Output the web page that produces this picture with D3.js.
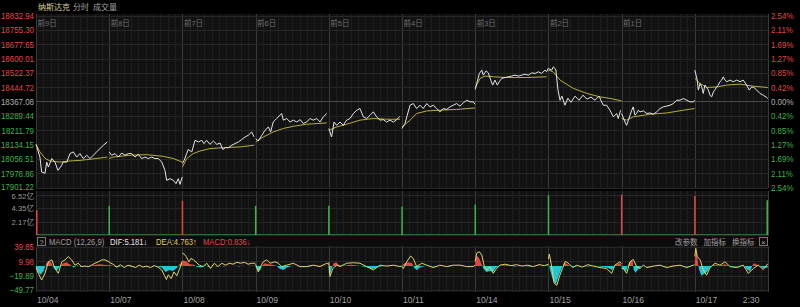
<!DOCTYPE html>
<html>
<head>
<meta charset="utf-8">
<script src="https://cdn.jsdelivr.net/npm/d3@7"></script>
<style>
html, body { margin: 0; padding: 0; background: #000; }
svg { display: block; }
text { font-family: "Liberation Sans", "Noto Sans CJK SC", sans-serif; }
</style>
</head>
<body>
<div id="chart"></div>
<script>
// trading days and labels
const dates = ["10/04", "10/07", "10/08", "10/09", "10/10", "10/11", "10/14", "10/15", "10/16", "10/17"];
const dayTags = ["前9日", "前8日", "前7日", "前6日", "前5日", "前4日", "前3日", "前2日", "前1日", ""];
const baseClose = 18367.08;
const priceTicks = [18832.94, 18755.30, 18677.65, 18600.01, 18522.37, 18444.72, 18367.08,
    18289.44, 18211.79, 18134.15, 18056.51, 17978.86, 17901.22];
const pctTicks = ["2.54%", "2.11%", "1.69%", "1.27%", "0.85%", "0.42%", "0.00%",
    "0.42%", "0.85%", "1.27%", "1.69%", "2.11%", "2.54%"];
const volTicks = [6.52, 4.35, 2.17];
const macdTicks = [39.85, 9.98, -19.89, -49.77];

// price per day: [minute from open, price]
const prices = [
    [[0,18135],[21,18066],[30,17985],[48,17978],[57,18039],[66,18012],[84,18058],[101,18039],[117,17994],[137,18021],[144,18039],[164,18039],[181,18085],[199,18094],[217,18066],[234,18085],[252,18058],[270,18076],[288,18058],[305,18076],[323,18094],[341,18112],[359,18130],[380,18148]],
    [[0,18094],[13,18076],[31,18085],[48,18066],[67,18088],[84,18076],[102,18085],[120,18085],[137,18066],[155,18081],[173,18058],[191,18066],[208,18058],[226,18066],[244,18058],[262,18058],[280,18039],[297,17994],[306,17940],[324,17949],[342,17940],[356,17922],[368,17949],[377,17918],[389,17958]],
    [[0,18031],[9,18048],[23,18085],[31,18107],[50,18094],[67,18157],[85,18148],[103,18157],[115,18139],[129,18157],[147,18135],[165,18153],[183,18135],[201,18142],[215,18107],[228,18117],[245,18117],[263,18130],[280,18139],[298,18148],[316,18161],[334,18175],[351,18184],[369,18202],[382,18175]],
    [[0,18166],[14,18153],[33,18184],[50,18211],[68,18229],[80,18202],[94,18256],[112,18275],[130,18293],[139,18302],[148,18266],[166,18275],[183,18256],[201,18266],[219,18256],[237,18269],[254,18248],[272,18256],[290,18275],[307,18266],[326,18275],[343,18256],[361,18284],[379,18302]],
    [[0,18221],[15,18175],[28,18256],[42,18238],[60,18256],[77,18238],[95,18266],[113,18275],[131,18302],[149,18320],[166,18329],[184,18284],[202,18275],[220,18293],[237,18311],[255,18284],[273,18266],[290,18269],[308,18256],[326,18266],[344,18256],[362,18269],[379,18287]],
    [[0,18221],[16,18248],[28,18293],[43,18347],[60,18356],[78,18329],[96,18347],[113,18329],[132,18356],[149,18338],[167,18347],[185,18329],[202,18311],[220,18329],[238,18324],[256,18338],[273,18347],[291,18356],[309,18342],[327,18360],[345,18374],[362,18365],[380,18365],[389,18352]],
    [[0,18432],[11,18474],[22,18519],[35,18537],[43,18510],[58,18533],[70,18522],[83,18483],[93,18456],[105,18483],[118,18456],[128,18474],[141,18492],[159,18497],[176,18501],[194,18505],[212,18510],[230,18505],[248,18510],[265,18515],[283,18510],[301,18522],[319,18519],[336,18528],[354,18519],[372,18537],[381,18528],[388,18546]],
    [[0,18546],[18,18537],[26,18555],[35,18546],[40,18537],[51,18429],[62,18374],[72,18396],[88,18347],[104,18385],[120,18363],[142,18396],[163,18374],[184,18401],[206,18380],[227,18391],[248,18374],[270,18396],[292,18347],[310,18347],[328,18320],[346,18284],[364,18302],[372,18275],[385,18320]],
    [[0,18302],[18,18256],[27,18238],[36,18266],[45,18293],[54,18320],[62,18338],[71,18293],[80,18302],[89,18320],[98,18311],[116,18316],[134,18302],[151,18305],[169,18298],[187,18311],[205,18329],[222,18338],[240,18342],[258,18347],[276,18356],[294,18374],[311,18374],[329,18383],[347,18374],[365,18365],[383,18365],[389,18374]],
    [[0,18537],[13,18483],[19,18429],[28,18465],[37,18446],[45,18411],[54,18456],[63,18443],[72,18429],[81,18401],[90,18392],[99,18419],[108,18432],[117,18446],[125,18456],[134,18474],[143,18483],[152,18501],[161,18483],[170,18474],[188,18483],[205,18474],[223,18483],[241,18474],[258,18483],[276,18456],[290,18429],[303,18446],[315,18443],[330,18429],[347,18411],[365,18401],[383,18389],[389,18383]]
];

// average price per day
const avgPrices = [
    [[0,18135],[21,18094],[48,18059],[75,18045],[128,18039],[181,18045],[234,18048],[288,18054],[341,18061],[380,18066]],
    [[0,18058],[20,18066],[111,18076],[200,18079],[288,18070],[342,18058],[389,18039]],
    [[0,18012],[23,18058],[58,18085],[94,18099],[147,18112],[218,18117],[307,18121],[382,18130]],
    [[0,18148],[41,18175],[94,18202],[148,18221],[201,18233],[272,18244],[379,18251]],
    [[0,18211],[42,18229],[95,18244],[166,18266],[237,18275],[308,18271],[379,18271]],
    [[0,18229],[43,18266],[78,18302],[132,18316],[202,18320],[291,18324],[389,18332]],
    [[0,18443],[26,18492],[52,18505],[96,18501],[168,18497],[274,18497],[381,18501]],
    [[0,18537],[25,18528],[62,18483],[133,18438],[204,18411],[275,18392],[328,18384],[389,18371]],
    [[0,18275],[27,18266],[62,18284],[151,18298],[240,18305],[329,18320],[389,18329]],
    [[0,18492],[28,18465],[63,18443],[117,18446],[170,18456],[241,18461],[312,18450],[389,18443]]
];

// volume spikes: [day, minute, 亿, 1 = up (red) / -1 = down (green)]
const volumes = [
    [0, 0, 4.0, 1], [0, 389, 4.7, -1], [1, 389, 5.5, 1], [2, 389, 4.7, -1], [3, 389, 4.7, -1],
    [4, 389, 4.6, -1], [5, 389, 4.9, -1], [6, 389, 6.4, -1], [7, 389, 6.5, 1], [8, 389, 6.3, 1], [9, 389, 5.6, -1]
];

// MACD DIF per day: [minute, value]
const difLine = [
    [[0,-3],[12,-15],[30,-29],[48,-15],[66,9],[84,13],[101,-5],[119,-15],[137,9],[155,13],[172,20],[190,13],[208,2],[225,6],[243,-1],[261,0],[279,-1],[296,2],[314,6],[332,9],[350,13],[368,13],[389,9]],
    [[0,8],[20,4],[40,-2],[60,3],[80,-3],[100,2],[120,0],[140,-3],[160,2],[180,-2],[200,0],[220,-3],[240,1],[260,-2],[280,-8],[295,-20],[305,-28],[315,-18],[330,-26],[345,-12],[360,-20],[375,-6],[389,10]],
    [[0,27],[9,25],[20,20],[35,9],[45,16],[60,13],[90,2],[110,-1],[130,6],[150,-5],[170,6],[190,-1],[210,6],[230,2],[250,6],[270,4],[290,8],[310,6],[330,8],[350,4],[370,6],[389,6]],
    [[0,4],[14,-12],[30,2],[41,9],[59,13],[77,6],[103,9],[121,6],[139,-1],[166,2],[201,6],[237,-1],[272,-1],[307,2],[343,-1],[379,6],[389,4]],
    [[0,8],[6,-22],[21,-5],[42,2],[60,-1],[95,6],[131,7],[166,6],[202,-1],[237,-8],[273,2],[308,0],[344,2],[379,-1],[389,0]],
    [[0,-1],[7,-5],[25,9],[46,21],[60,16],[78,-1],[105,6],[132,2],[167,-3],[202,2],[238,-1],[273,2],[309,2],[345,-1],[380,-1],[389,2]],
    [[0,10],[8,27],[22,30],[35,23],[47,2],[61,-8],[79,-1],[96,-15],[114,-5],[132,2],[160,4],[190,1],[220,3],[250,0],[280,2],[310,-1],[340,3],[370,1],[389,4]],
    [[0,15],[5,25],[15,5],[30,-35],[45,-40],[60,-20],[75,-5],[90,10],[110,5],[130,-3],[150,2],[180,-2],[210,3],[240,0],[275,-3],[310,-5],[337,-15],[354,2],[381,9],[389,5]],
    [[0,-5],[9,-5],[27,-15],[45,9],[62,14],[80,-1],[98,-5],[116,2],[134,-3],[169,0],[205,2],[240,-3],[275,0],[311,2],[347,-3],[382,2],[389,3]],
    [[0,20],[5,37],[13,20],[28,13],[45,-8],[63,-19],[81,-3],[108,6],[134,2],[161,9],[188,-1],[223,-3],[258,2],[285,-15],[312,-5],[338,2],[365,-7],[389,5]]
];

// MACD histogram per day: [minute, value]
const macdBars = [
    [[0,-3],[10,-12],[25,-18],[40,-10],[55,6],[65,10],[80,8],[95,-4],[110,-10],[125,-2],[140,5],[160,8],[180,4],[200,-3],[220,2],[240,-2],[260,1],[280,-2],[300,2],[320,3],[340,4],[360,3],[389,2]],
    [[0,3],[40,-2],[80,1],[120,-1],[160,1],[200,-1],[240,1],[280,-3],[300,-12],[320,-8],[340,-10],[360,-4],[375,4],[389,10]],
    [[0,12],[20,10],[40,4],[60,3],[80,-2],[100,-3],[120,2],[140,-2],[160,2],[180,-1],[200,1],[220,-1],[240,1],[260,0],[280,1],[300,-1],[320,1],[340,0],[360,1],[389,1]],
    [[0,-2],[14,-10],[25,-8],[35,2],[50,6],[70,4],[90,3],[110,1],[130,-6],[150,-8],[165,-3],[200,1],[240,-1],[280,-1],[320,1],[360,1],[389,0]],
    [[0,-14],[6,-18],[15,-6],[25,6],[40,8],[55,2],[80,1],[120,3],[160,1],[200,-2],[235,-6],[260,-2],[300,1],[340,1],[389,0]],
    [[0,2],[15,6],[35,8],[55,6],[65,-4],[80,-8],[95,-3],[130,1],[170,-1],[210,1],[250,-1],[290,1],[330,0],[389,1]],
    [[0,12],[8,22],[20,18],[32,6],[45,-6],[60,-12],[80,-10],[95,-12],[110,-4],[130,1],[170,2],[210,-1],[250,1],[290,-1],[330,1],[370,0],[389,2]],
    [[0,8],[10,-10],[25,-30],[40,-38],[55,-20],[70,-5],[85,8],[100,4],[130,-2],[170,1],[210,-1],[250,1],[290,-2],[320,-4],[337,-8],[355,2],[381,6],[389,3]],
    [[0,-3],[15,-8],[25,-10],[35,4],[48,10],[58,12],[65,-8],[75,-14],[88,-6],[110,1],[150,-1],[190,1],[230,-1],[270,1],[310,1],[350,-1],[389,1]],
    [[0,10],[5,30],[12,22],[22,-6],[35,-20],[50,-16],[65,-12],[80,-3],[100,3],[130,1],[160,4],[190,-1],[230,-1],[260,2],[280,-8],[295,-10],[310,4],[320,6],[340,1],[365,-4],[389,-3]]
];

const W = 800, H = 307;
const left = 36, right = 768;
const RED = "#e04848", GREEN = "#3cb44b", GRID = "#262626", DAYLINE = "#3a3a3a";
const CJK = "'Noto Sans CJK SC', sans-serif";

const svg = d3.select("#chart").append("svg").attr("width", W).attr("height", H);
svg.append("rect").attr("width", W).attr("height", H).attr("fill", "#000");

// narrow the numeric labels, the terminal font is condensed
function squeeze(sel, k) {
    sel.each(function () {
        const w = this.getComputedTextLength();
        d3.select(this).attr("textLength", w * k).attr("lengthAdjust", "spacingAndGlyphs");
    });
}

const x = d3.scaleLinear().domain([0, dates.length * 390]).range([left, right]);
const tx = (day, m) => x(day * 390 + m);

const yMain = d3.scaleLinear().domain([17901.22, 18832.94]).range([187.5, 15.5]);
const yVol = d3.scaleLinear().domain([0, 6.52]).range([235, 194.5]);
const yMacd = d3.scaleLinear().domain([-49.77, 39.85]).range([290, 247]);

// panel backgrounds + grids
function panel(y0, y1, hTicks, yScale) {
    const g = svg.append("g");
    g.append("rect").attr("x", left).attr("y", y0).attr("width", right - left).attr("height", y1 - y0).attr("fill", "#121212");
    const minor = d3.range(0, dates.length * 390 + 1, 39);
    g.selectAll(".vminor").data(minor).join("line")
        .attr("x1", d => Math.round(x(d)) + 0.5).attr("x2", d => Math.round(x(d)) + 0.5)
        .attr("y1", y0).attr("y2", y1)
        .attr("stroke", d => d % 390 === 0 ? DAYLINE : "#1e1e1e").attr("stroke-width", 1);
    g.selectAll(".hgrid").data(hTicks).join("line")
        .attr("x1", left).attr("x2", right)
        .attr("y1", d => Math.round(yScale(d)) + 0.5).attr("y2", d => Math.round(yScale(d)) + 0.5)
        .attr("stroke", d => d === baseClose ? "#4a4a4a" : GRID);
    return g;
}
panel(14, 188, priceTicks, yMain);
panel(191, 236, volTicks.concat([0]), yVol);
panel(246, 292, macdTicks, yMacd);

// title bar
const title = svg.append("g").attr("font-size", 8).attr("font-family", CJK);
title.append("text").attr("x", 38).attr("y", 10).attr("fill", "#d8cf9a").text("纳斯达克");
title.append("text").attr("x", 73).attr("y", 10).attr("fill", "#a0a0a0").text("分时");
title.append("text").attr("x", 93).attr("y", 10).attr("fill", "#a0a0a0").text("成交量");

// day tags
svg.append("g").selectAll("text").data(dayTags).join("text")
    .attr("x", (d, i) => tx(i, 0) + 1.5).attr("y", 25.5)
    .attr("font-size", 7.5).attr("font-family", CJK).attr("fill", "#6e6e6e").text(d => d);

// left price axis
const tickColor = v => v > baseClose + 0.01 ? RED : (v < baseClose - 0.01 ? GREEN : "#b0b0b0");
const lowest = priceTicks[priceTicks.length - 1];
const leftAxis = svg.append("g").attr("transform", `translate(${left - 1},0)`)
    .call(d3.axisLeft(yMain).tickValues(priceTicks).tickSize(0).tickPadding(1).tickFormat(d3.format(".2f")));
leftAxis.select(".domain").remove();
leftAxis.selectAll("text").attr("font-size", 9).attr("font-family", "Liberation Sans").attr("fill", d => tickColor(d))
    .attr("dy", d => d === lowest ? "0.2em" : "0.32em")
    .call(squeeze, 0.88);

// right percent axis
const rightAxis = svg.append("g").attr("transform", `translate(${right + 2},0)`)
    .call(d3.axisRight(yMain).tickValues(priceTicks).tickSize(0).tickPadding(1)
        .tickFormat((d, i) => pctTicks[i]));
rightAxis.select(".domain").remove();
rightAxis.selectAll("text").attr("font-size", 9).attr("font-family", "Liberation Sans").attr("fill", d => tickColor(d))
    .call(squeeze, 0.88);

// price and average lines
const priceLine = day => d3.line().x(d => tx(day, d[0])).y(d => yMain(d[1]));
const lines = svg.append("g").attr("fill", "none");
avgPrices.forEach((arr, i) => {
    lines.append("path").attr("d", priceLine(i)(arr)).attr("stroke", "#b9ad3c").attr("stroke-width", 1);
});
prices.forEach((arr, i) => {
    lines.append("path").attr("d", priceLine(i)(arr)).attr("stroke", "#e6e6e6").attr("stroke-width", 1);
});

// volume axis
const volAxis = svg.append("g").attr("transform", `translate(${left - 1},0)`)
    .call(d3.axisLeft(yVol).tickValues(volTicks).tickSize(0).tickPadding(1).tickFormat(d => d.toFixed(2) + "亿"));
volAxis.select(".domain").remove();
volAxis.selectAll("text").attr("font-size", 8).attr("font-family", "Liberation Sans").attr("fill", "#9a9a9a")
    .attr("dy", d => d === volTicks[0] ? "0.55em" : "0.32em")
    .call(squeeze, 0.95);

// volume baseline and spikes
svg.append("line").attr("x1", left).attr("x2", right).attr("y1", yVol(0) - 0.5).attr("y2", yVol(0) - 0.5)
    .attr("stroke", "#2f6a35").attr("stroke-width", 1);
svg.append("g").selectAll("rect").data(volumes).join("rect")
    .attr("x", d => Math.min(Math.max(tx(d[0], d[1]) - 0.5, left), right - 1.5))
    .attr("y", d => yVol(d[2]))
    .attr("width", 1.5)
    .attr("height", d => yVol(0) - yVol(d[2]))
    .attr("fill", d => d[3] > 0 ? RED : GREEN);

// MACD header
svg.append("rect").attr("x", left).attr("y", 236).attr("width", right - left).attr("height", 10).attr("fill", "#0c0c0c");
const hdr = svg.append("g").attr("font-size", 9).attr("font-family", "Liberation Sans");
hdr.append("rect").attr("x", 37.5).attr("y", 237.5).attr("width", 8).attr("height", 8).attr("fill", "none").attr("stroke", "#777");
hdr.append("text").attr("x", 39.5).attr("y", 244.5).attr("font-size", 7.5).attr("fill", "#aaa").text("?");
const hdrItems = [
    { x: 49, text: "MACD (12,26,9)", color: "#a0a0a0" },
    { x: 110, text: "DIF:5.181↓", color: "#e8e8e8" },
    { x: 156, text: "DEA:4.763↑", color: "#e3cf55" },
    { x: 203, text: "MACD:0.836↓", color: RED }
];
hdr.selectAll(".item").data(hdrItems).join("text")
    .attr("x", d => d.x).attr("y", 245).attr("fill", d => d.color).text(d => d.text)
    .call(squeeze, 0.85);
const tools = ["改参数", "加指标", "换指标"];
hdr.selectAll(".tool").data(tools).join("text")
    .attr("x", (d, i) => 675 + i * 28.5).attr("y", 245).attr("font-size", 7.5).attr("font-family", CJK)
    .attr("fill", "#a0a0a0").text(d => d);
hdr.append("rect").attr("x", 759.5).attr("y", 237.5).attr("width", 8).attr("height", 8).attr("fill", "none").attr("stroke", "#777");
hdr.append("text").attr("x", 761).attr("y", 244.5).attr("font-size", 8).attr("fill", "#aaa").text("×");

// MACD axis
const macdAxis = svg.append("g").attr("transform", `translate(${left - 1},0)`)
    .call(d3.axisLeft(yMacd).tickValues(macdTicks).tickSize(0).tickPadding(1).tickFormat(d3.format(".2f")));
macdAxis.select(".domain").remove();
macdAxis.selectAll("text").attr("font-size", 9).attr("font-family", "Liberation Sans").attr("fill", d => d > 0 ? RED : GREEN)
    .call(squeeze, 0.88);

// MACD histogram as filled areas split at zero
const defs = svg.append("defs");
defs.append("clipPath").attr("id", "above").append("rect")
    .attr("x", left).attr("y", 246).attr("width", right - left).attr("height", yMacd(0) - 246);
defs.append("clipPath").attr("id", "below").append("rect")
    .attr("x", left).attr("y", yMacd(0)).attr("width", right - left).attr("height", 292 - yMacd(0));
const barArea = day => d3.area().x(d => tx(day, d[0])).y0(yMacd(0)).y1(d => yMacd(d[1]));
macdBars.forEach((arr, i) => {
    svg.append("path").attr("d", barArea(i)(arr)).attr("fill", RED).attr("clip-path", "url(#above)");
    svg.append("path").attr("d", barArea(i)(arr)).attr("fill", "#22c6d6").attr("clip-path", "url(#below)");
});
const difPath = day => d3.line().x(d => tx(day, d[0])).y(d => yMacd(d[1]));
difLine.forEach((arr, i) => {
    svg.append("path").attr("d", difPath(i)(arr)).attr("fill", "none").attr("stroke", "#e3d468").attr("stroke-width", 1);
});

// date axis
const dateAxis = svg.append("g").attr("font-size", 9.5).attr("font-family", "Liberation Sans").attr("fill", "#a0a0a0");
dateAxis.selectAll("text").data(dates).join("text")
    .attr("x", (d, i) => tx(i, 0) + 1).attr("y", 303).text(d => d)
    .call(squeeze, 0.9);
dateAxis.append("text").attr("x", tx(9, 300)).attr("y", 303).attr("text-anchor", "middle").text("2:30")
    .call(squeeze, 0.9);
</script>
</body>
</html>
